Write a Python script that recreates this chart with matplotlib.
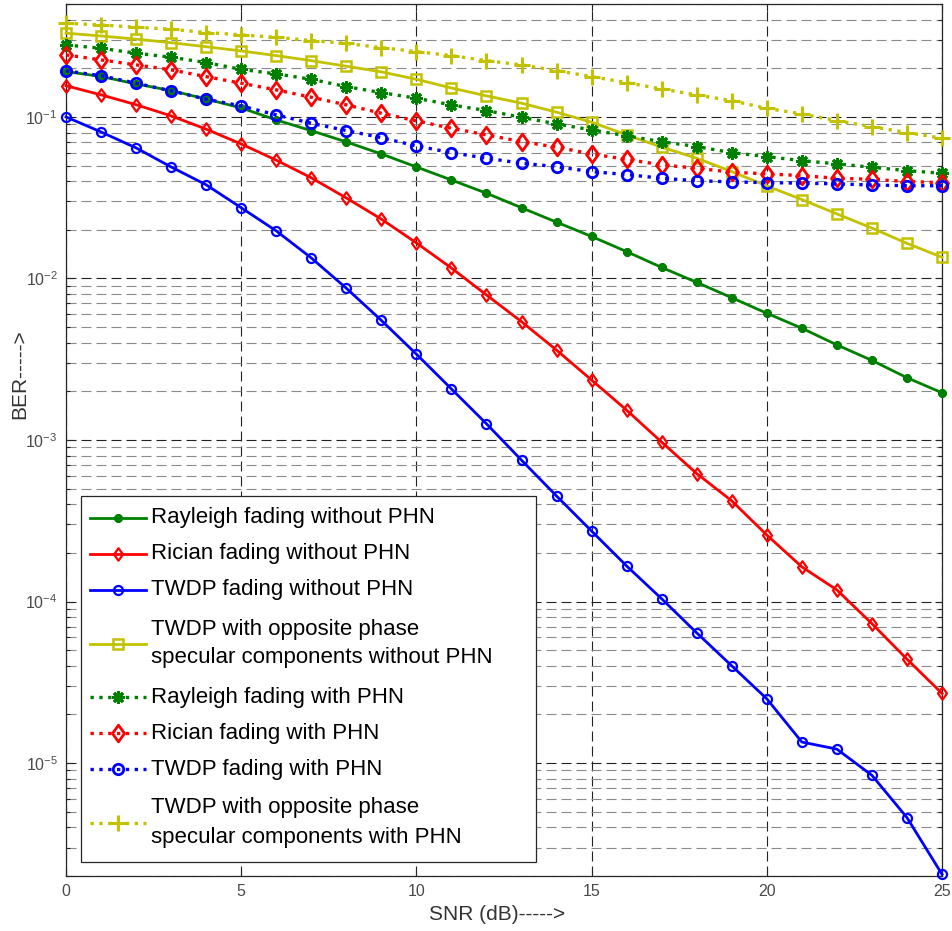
import matplotlib
matplotlib.use("Agg")
import matplotlib.pyplot as plt
import numpy as np
from matplotlib.ticker import LogLocator, NullLocator, FixedLocator, NullFormatter
from matplotlib.lines import Line2D
from matplotlib.patches import Rectangle
from matplotlib.path import Path

plt.rcParams['font.family'] = ['Liberation Sans', 'DejaVu Sans']
plt.rcParams['mathtext.fontset'] = 'custom'
plt.rcParams['mathtext.rm'] = 'Liberation Sans'
plt.rcParams['mathtext.it'] = 'Liberation Sans:italic'
plt.rcParams['mathtext.bf'] = 'Liberation Sans:bold'

snr = list(range(0, 26))

rayleigh_no_phn = [0.191, 0.178, 0.160, 0.1455, 0.129, 0.1137, 0.0958, 0.0822, 0.070, 0.059,
                   0.049, 0.0407, 0.0337, 0.0274, 0.0223, 0.0182, 0.01466, 0.0117, 0.00946, 0.0076,
                   0.00609, 0.00492, 0.00388, 0.00311, 0.00243, 0.00196]
rician_no_phn = [0.156, 0.137, 0.119, 0.1015, 0.084, 0.068, 0.054, 0.042, 0.0315, 0.0233,
                 0.0166, 0.0116, 0.0079, 0.0054, 0.0036, 0.00235, 0.00153, 0.00097, 0.00062, 0.00042,
                 0.000258, 0.000164, 0.000118, 7.3e-5, 4.4e-5, 2.7e-5]
twdp_no_phn = [0.1, 0.0807, 0.0643, 0.049, 0.038, 0.0274, 0.0197, 0.0134, 0.0087, 0.0055,
               0.0034, 0.00207, 0.00126, 0.00075, 0.00045, 0.000273, 0.000166, 0.000104, 6.4e-5, 4.0e-5,
               2.5e-5, 1.35e-5, 1.22e-5, 8.4e-6, 4.6e-6, 2.05e-6]
twdp_opp_no_phn = [0.330, 0.317, 0.303, 0.288, 0.272, 0.256, 0.2396, 0.223, 0.206, 0.190,
                   0.171, 0.151, 0.135, 0.1216, 0.107, 0.0927, 0.0774, 0.065, 0.0555, 0.0459,
                   0.0374, 0.0308, 0.0251, 0.0205, 0.0165, 0.01353]
rayleigh_phn = [0.279, 0.266, 0.248, 0.234, 0.217, 0.197, 0.1846, 0.171, 0.154, 0.1414,
                0.1305, 0.1187, 0.1094, 0.0995, 0.0905, 0.0831, 0.0763, 0.0703, 0.0655, 0.0601,
                0.0568, 0.0536, 0.0512, 0.0488, 0.0465, 0.0448]
rician_phn = [0.242, 0.2254, 0.210, 0.1955, 0.1776, 0.1617, 0.147, 0.1324, 0.1187, 0.1054,
              0.0945, 0.0851, 0.0774, 0.0703, 0.065, 0.059, 0.0546, 0.0505, 0.0481, 0.0455,
              0.0444, 0.0433, 0.0417, 0.0411, 0.0398, 0.0392]
twdp_phn = [0.1927, 0.180, 0.1617, 0.145, 0.1287, 0.117, 0.1029, 0.0914, 0.0823, 0.0744,
            0.0661, 0.0601, 0.0555, 0.0517, 0.0492, 0.0458, 0.044, 0.0417, 0.0403, 0.0396,
            0.0392, 0.0389, 0.0385, 0.0379, 0.0375, 0.0375]
twdp_opp_phn = [0.380, 0.371, 0.359, 0.349, 0.333, 0.322, 0.311, 0.297, 0.285, 0.2686,
                0.2536, 0.2396, 0.223, 0.210, 0.1935, 0.1776, 0.163, 0.149, 0.1368, 0.126,
                0.113, 0.1043, 0.0948, 0.087, 0.080, 0.0738]

labels = ["Rayleigh fading without PHN",
          "Rician fading without PHN",
          "TWDP fading without PHN",
          "TWDP with opposite phase\nspecular components without PHN",
          "Rayleigh fading with PHN",
          "Rician fading with PHN",
          "TWDP fading with PHN",
          "TWDP with opposite phase\nspecular components with PHN"]

GREEN = '#008000'
RED = '#ff0000'
BLUE = '#0000ff'
YEL = '#c2c200'
AST = (8, 2, 0)
DIAM = Path([(0, 1), (0.72, 0), (0, -1), (-0.72, 0), (0, 1)],
            [Path.MOVETO, Path.LINETO, Path.LINETO, Path.LINETO, Path.CLOSEPOLY])

W, H = 952, 931
fig = plt.figure(figsize=(W / 100, H / 100), dpi=100)
ax = fig.add_axes([66 / W, 1 - 876 / H, 876 / W, 872 / H])

series = [
    (rayleigh_no_phn, dict(ls='-', color=GREEN, lw=2.0, marker=AST, ms=6, mew=2.2)),
    (rician_no_phn, dict(ls='-', color=RED, lw=2.0, marker=DIAM, ms=9, mew=1.6, mfc='none')),
    (twdp_no_phn, dict(ls='-', color=BLUE, lw=2.0, marker='o', ms=6.5, mew=1.6, mfc='none')),
    (twdp_opp_no_phn, dict(ls='-', color=YEL, lw=2.0, marker='s', ms=7.5, mew=1.8, mfc='none')),
    (rayleigh_phn, dict(ls=':', color=GREEN, lw=2.4, marker=AST, ms=9, mew=2.2)),
    (rician_phn, dict(ls=':', color=RED, lw=2.4, marker=DIAM, ms=12, mew=2.0, mfc='none')),
    (twdp_phn, dict(ls=':', color=BLUE, lw=2.4, marker='o', ms=7.5, mew=2.0, mfc='none')),
    (twdp_opp_phn, dict(ls=':', color=YEL, lw=2.4, marker='+', ms=11, mew=2.2)),
]

for (vals, st), lab in zip(series, labels):
    ax.plot(snr, vals, label=lab, clip_on=False, zorder=3, **st)

ax.set_yscale('log')
ax.set_xlim(0, 25)
ax.set_ylim(2e-6, 0.5)
ax.xaxis.set_major_locator(FixedLocator([0, 5, 10, 15, 20, 25]))
ax.xaxis.set_minor_locator(NullLocator())
ax.yaxis.set_major_locator(LogLocator(base=10, numticks=20))
ax.yaxis.set_minor_locator(LogLocator(base=10, subs=np.arange(2, 10), numticks=50))
ax.yaxis.set_minor_formatter(NullFormatter())

dash = (0, (9, 4.5))
ax.grid(True, which='major', axis='both', color='#222222', lw=0.8, linestyle=dash)
ax.grid(True, which='minor', axis='y', color='#8a8a8a', lw=0.8, linestyle=dash)
ax.set_axisbelow(True)

ax.tick_params(which='both', direction='in', top=True, right=True, colors='#262626',
               labelcolor='#4a4a4a', labelsize=11.5)
ax.tick_params(which='major', length=5, width=0.8, pad=6)
ax.tick_params(which='minor', length=3, width=0.8)
for s in ax.spines.values():
    s.set_linewidth(0.9)
    s.set_color('#262626')

ax.set_xlabel('SNR (dB)----->', fontsize=15, color='#333333')
ax.set_ylabel('BER----->', fontsize=15, color='#333333')
ax.xaxis.set_label_coords(0.492, -0.0447, transform=ax.transAxes)
ax.yaxis.set_label_coords(-0.0525, 0.575, transform=ax.transAxes)
ax.xaxis.label.set_va('center')
ax.yaxis.label.set_va('center')

# Legend box (MATLAB style), laid out in figure pixel coordinates
def fx(px):
    return px / W

def fy(py):
    return 1 - py / H

tf = fig.transFigure
box = Rectangle((fx(81), fy(862)), fx(536) - fx(81), fy(496) - fy(862), transform=tf,
                facecolor='white', edgecolor='#262626', lw=0.9, zorder=5, clip_on=False)
ax.add_patch(box)
row_centers = [518, 554, 590, 643.5, 697, 733, 769, 822.5]
for (vals, st), lab, yc in zip(series, labels, row_centers):
    line_st = {k: v for k, v in st.items() if k in ('ls', 'color', 'lw')}
    mk_st = {k: v for k, v in st.items() if k not in ('ls', 'lw')}
    ax.add_line(Line2D([fx(90), fx(146)], [fy(yc), fy(yc)], transform=tf, zorder=6,
                       clip_on=False, **line_st))
    ax.add_line(Line2D([fx(118)], [fy(yc)], transform=tf, zorder=7, clip_on=False,
                       ls='none', **mk_st))
    ax.text(fx(151), fy(yc), lab, transform=tf, fontsize=16, va='center', ha='left',
            linespacing=1.5, color='#000000', zorder=7, clip_on=False)

fig.savefig('out.png', dpi=100)
